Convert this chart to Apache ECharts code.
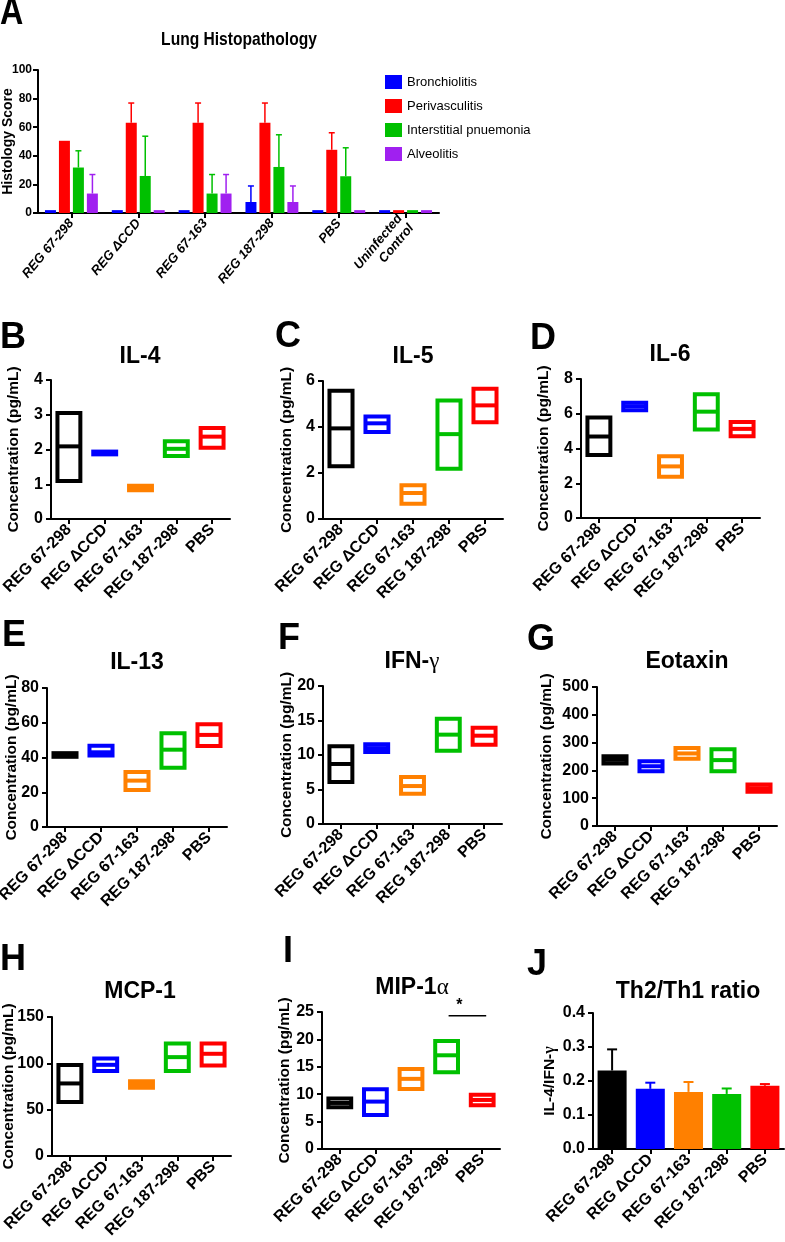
<!DOCTYPE html>
<html>
<head>
<meta charset="utf-8">
<script src="https://cdn.jsdelivr.net/npm/echarts@6/dist/echarts.min.js"></script>
<style>
  html, body { margin: 0; padding: 0; background: #fff; }
  #main { width: 785px; height: 1242px; }
</style>
</head>
<body>
<div id="main"></div>
<script>
// ---- panel A: lung histopathology (mean + upper SEM) ----
const histoGroups = ['REG 67-298', 'REG ΔCCD', 'REG 67-163', 'REG 187-298', 'PBS', 'Uninfected\nControl'];
const histoNames = ['Bronchiolitis', 'Perivasculitis', 'Interstitial pnuemonia', 'Alveolitis'];
const bronchiolitis = [2, 2, 2, 7.7, 2, 2];
const bronchiolitisErr = [0, 0, 0, 11.2, 0, 0];
const perivasculitis = [50.5, 63.1, 63.1, 63.1, 44.2, 2];
const perivasculitisErr = [0, 13.8, 13.8, 13.8, 11.9, 0];
const interstitial = [31.8, 25.9, 13.6, 32.2, 25.7, 2];
const interstitialErr = [11.7, 27.8, 13.3, 22.5, 19.9, 0];
const alveolitis = [13.6, 2, 13.6, 7.7, 2, 2];
const alveolitisErr = [13.3, 0, 13.3, 11.2, 0, 0];
const histoTicks = [0, 100, 20]; // min, max, interval

// ---- panels B-I: floating bars [min, mean, max] ----
const groups = ['REG 67-298', 'REG ΔCCD', 'REG 67-163', 'REG 187-298', 'PBS'];
const il4 = [[1.09, 2.09, 3.05], [1.86, 1.9, 1.94], [0.83, 0.89, 0.96], [1.81, 2.02, 2.24], [2.05, 2.37, 2.62]];
const il5 = [[2.29, 3.94, 5.58], [3.78, 4.16, 4.46], [0.66, 1.13, 1.47], [2.19, 3.69, 5.15], [4.21, 4.94, 5.66]];
const il6 = [[3.62, 4.69, 5.78], [6.2, 6.43, 6.64], [2.37, 2.97, 3.56], [5.09, 6.12, 7.12], [4.71, 5.13, 5.53]];
const il13 = [[40.4, 41.4, 42.5], [41.1, 43, 46.8], [21.3, 26.7, 31.7], [34.1, 44.5, 53.9], [46.6, 53, 59.1]];
const ifng = [[6.09, 8.7, 11.26], [10.43, 11.0, 11.55], [4.4, 5.5, 6.81], [10.63, 12.95, 15.27], [11.5, 12.8, 13.96]];
const eotaxin = [[225, 238, 251], [197, 215, 233], [242, 261, 281], [197, 237, 276], [123, 136, 149]];
const mcp1 = [[58.4, 78.3, 98.1], [91.6, 98.4, 105.3], [73.6, 77.2, 80.8], [91.6, 106.7, 121.5], [97.7, 110.3, 121.5]];
const mip1a = [[7.6, 8.4, 9.2], [6.2, 8.65, 10.9], [10.95, 12.8, 14.6], [14.0, 17.1, 19.7], [8.0, 8.95, 9.9]];
const mipSig = [3, 4, 24.3]; // REG 187-298 vs PBS, bar height

// ---- panel J: Th2/Th1 ratio ----
const ratio = [0.231, 0.177, 0.168, 0.162, 0.186];
const ratioErr = [0.062, 0.018, 0.029, 0.016, 0.005];

const groupColors = ['#000000', '#0000ff', '#ff8000', '#00c000', '#ff0000'];
const histoColors = ['#0000ff', '#ff0000', '#00c000', '#a020f0'];
const sans = "'Liberation Sans', Arial, sans-serif";

// layout of the small panels
const panels = [
  { key: 'B', title: 'IL-4', data: il4, max: 4, step: 1, grid: [51, 380, 179, 139], t: [140, 357], l: [0, 338], gap: 29 },
  { key: 'C', title: 'IL-5', data: il5, max: 6, step: 2, grid: [323, 381, 180, 138], t: [413, 357], l: [275, 337], gap: 28 },
  { key: 'D', title: 'IL-6', data: il6, max: 8, step: 2, grid: [581, 379, 179, 139], t: [670, 355], l: [530, 339], gap: 29 },
  { key: 'E', title: 'IL-13', data: il13, max: 80, step: 20, grid: [47, 688, 180, 139], t: [137, 663], l: [2, 636], gap: 27 },
  { key: 'F', title: 'IFN-{g|γ}', data: ifng, max: 20, step: 5, grid: [323, 686, 179, 138], t: [412, 662], l: [278, 639], gap: 28 },
  { key: 'G', title: 'Eotaxin', data: eotaxin, max: 500, step: 100, grid: [597, 687, 180, 139], t: [687, 662], l: [527, 640], gap: 42 },
  { key: 'H', title: 'MCP-1', data: mcp1, max: 150, step: 50, grid: [52, 1017, 179, 139], t: [140, 992], l: [0, 960], gap: 35 },
  { key: 'I', title: 'MIP-1{g|α}', data: mip1a, max: 25, step: 5, grid: [322, 1012, 178, 137], t: [412, 988], l: [283, 952], gap: 29 },
  { key: 'J', title: 'Th2/Th1 ratio', data: null, max: 0.4, step: 0.1, grid: [593, 1013, 191, 136], t: [688, 992], l: [527, 965], gap: 35 }
];

const greek = { g: { fontFamily: "'Liberation Serif', serif", fontWeight: 'normal', fontSize: 23, color: '#000' } };
const axisLine = { show: true, lineStyle: { color: '#000', width: 2 } };
const axisTick = { show: true, length: 5, lineStyle: { color: '#000', width: 2 } };

const grids = [{ left: 38, top: 70, width: 401, height: 143, outerBoundsMode: 'none' }];
const xAxes = [{
  type: 'category', gridIndex: 0, data: histoGroups,
  axisLine, axisTick: Object.assign({ alignWithLabel: true }, axisTick),
  axisLabel: { interval: 0, rotate: 50, margin: 8, fontFamily: sans, fontWeight: 'bold', fontStyle: 'italic', fontSize: 13, color: '#000', lineHeight: 15 }
}];
const yAxes = [{
  type: 'value', gridIndex: 0, min: histoTicks[0], max: histoTicks[1], interval: histoTicks[2],
  axisLine, axisTick, splitLine: { show: false },
  axisLabel: { margin: 6, fontFamily: sans, fontWeight: 'bold', fontSize: 12, color: '#000' },
  name: 'Histology Score', nameLocation: 'middle', nameGap: 23, nameMoveOverlap: false,
  nameTextStyle: { fontFamily: sans, fontWeight: 'bold', fontSize: 14, color: '#000' }
}];
const titles = [];

const series = [];
const histoVals = [bronchiolitis, perivasculitis, interstitial, alveolitis];
const histoErrs = [bronchiolitisErr, perivasculitisErr, interstitialErr, alveolitisErr];

function errItem(offset, colorOf, cap, lw) {
  return function (params, api) {
    const sem = api.value(2);
    if (!sem) return null;
    const p0 = api.coord([api.value(0), api.value(1)]);
    const p1 = api.coord([api.value(0), api.value(1) + sem]);
    const x = p0[0] + offset;
    const c = colorOf(params.dataIndex);
    return {
      type: 'group', children: [
        { type: 'line', shape: { x1: x, y1: p0[1], x2: x, y2: p1[1] }, style: { stroke: c, lineWidth: lw } },
        { type: 'line', shape: { x1: x - cap / 2, y1: p1[1], x2: x + cap / 2, y2: p1[1] }, style: { stroke: c, lineWidth: lw } }
      ]
    };
  };
}

histoNames.forEach(function (name, i) {
  series.push({
    type: 'bar', name: name, xAxisIndex: 0, yAxisIndex: 0, data: histoVals[i],
    barWidth: 11, barGap: '27%', itemStyle: { color: histoColors[i] }
  });
});
histoNames.forEach(function (name, i) {
  series.push({
    type: 'custom', xAxisIndex: 0, yAxisIndex: 0, z: 3,
    data: histoVals[i].map(function (v, k) { return [k, v, histoErrs[i][k]]; }),
    renderItem: errItem((i - 1.5) * 14, function () { return histoColors[i]; }, 6, 1.5)
  });
});

function boxItem(params, api) {
  const x = api.value(0);
  const lo = api.coord([x, api.value(1)]);
  const md = api.coord([x, api.value(2)]);
  const hi = api.coord([x, api.value(3)]);
  const w = api.size([1, 0])[0] * 0.64;
  const c = groupColors[params.dataIndex];
  return {
    type: 'group', children: [
      { type: 'rect', shape: { x: lo[0] - w / 2, y: hi[1], width: w, height: lo[1] - hi[1] }, style: { fill: '#fff', stroke: c, lineWidth: 4 } },
      { type: 'line', shape: { x1: lo[0] - w / 2, y1: md[1], x2: lo[0] + w / 2, y2: md[1] }, style: { stroke: c, lineWidth: 4 } }
    ]
  };
}

panels.forEach(function (p, idx) {
  const gi = idx + 1;
  grids.push({ left: p.grid[0], top: p.grid[1], width: p.grid[2], height: p.grid[3], outerBoundsMode: 'none' });
  xAxes.push({
    type: 'category', gridIndex: gi, data: groups,
    axisLine, axisTick: Object.assign({ alignWithLabel: true }, axisTick),
    axisLabel: { interval: 0, rotate: 45, margin: 8, fontFamily: sans, fontWeight: 'bold', fontSize: 16, color: '#000' }
  });
  yAxes.push({
    type: 'value', gridIndex: gi, min: 0, max: p.max, interval: p.step,
    axisLine, axisTick, splitLine: { show: false },
    axisLabel: {
      margin: 8, fontFamily: sans, fontWeight: 'bold', fontSize: 16, color: '#000',
      formatter: p.key === 'J' ? function (v) { return v.toFixed(1); } : null
    },
    name: p.key === 'J' ? 'IL-4/IFN-{g|γ}' : 'Concentration (pg/mL)',
    nameLocation: 'middle', nameGap: p.gap, nameMoveOverlap: false,
    nameTextStyle: { fontFamily: sans, fontWeight: 'bold', fontSize: 15.5, color: '#000', rich: { g: { fontFamily: "'Liberation Serif', serif", fontSize: 16, color: '#000' } } }
  });
  titles.push({
    text: p.key, left: p.l[0], top: p.l[1], textVerticalAlign: 'middle', padding: 0,
    textStyle: { fontFamily: sans, fontWeight: 'bold', fontSize: 36, color: '#000' }
  });
  titles.push({
    text: p.title, left: p.t[0], top: p.t[1], textAlign: 'center', textVerticalAlign: 'middle', padding: 0,
    textStyle: { fontFamily: sans, fontWeight: 'bold', fontSize: 23, color: '#000', rich: greek }
  });
  if (p.data) {
    series.push({
      type: 'custom', xAxisIndex: gi, yAxisIndex: gi,
      encode: { x: 0, y: [1, 2, 3] },
      data: p.data.map(function (d, k) { return [k, d[0], d[1], d[2]]; }),
      renderItem: boxItem
    });
  }
});

// panel J bars with SEM
series.push({
  type: 'bar', xAxisIndex: 9, yAxisIndex: 9, data: ratio, barWidth: '76%',
  itemStyle: { color: function (p) { return groupColors[p.dataIndex]; } }
});
series.push({
  type: 'custom', xAxisIndex: 9, yAxisIndex: 9, z: 3,
  data: ratio.map(function (v, k) { return [k, v, ratioErr[k]]; }),
  renderItem: errItem(0, function (i) { return groupColors[i]; }, 10, 2)
});

// significance bar in panel I
series.push({
  type: 'custom', xAxisIndex: 8, yAxisIndex: 8, z: 4,
  data: [mipSig],
  renderItem: function (params, api) {
    const a = api.coord([api.value(0), api.value(2)]);
    const b = api.coord([api.value(1), api.value(2)]);
    return {
      type: 'group', children: [
        { type: 'line', shape: { x1: a[0] + 2, y1: a[1], x2: b[0] + 4, y2: b[1] }, style: { stroke: '#000', lineWidth: 1.5 } },
        { type: 'text', x: (a[0] + b[0]) / 2 - 5, y: a[1] - 2, style: { text: '*', fill: '#000', font: 'bold 16px ' + sans, align: 'center', verticalAlign: 'bottom' } }
      ]
    };
  }
});

// panel A heading is horizontally squeezed in the source figure
const graphics = [
  { type: 'text', x: 0, y: 14, scaleX: 0.85, style: { text: 'A', fill: '#000', font: 'bold 38px ' + sans, align: 'left', verticalAlign: 'middle' } },
  { type: 'text', x: 239, y: 40, scaleX: 0.82, style: { text: 'Lung Histopathology', fill: '#000', font: 'bold 19px ' + sans, align: 'center', verticalAlign: 'middle' } }
];

const chart = echarts.init(document.getElementById('main'), null, { renderer: 'canvas' });
chart.setOption({
  animation: false,
  backgroundColor: '#fff',
  title: titles,
  graphic: graphics,
  legend: {
    data: histoNames, orient: 'vertical', left: 385, top: 75, padding: 0,
    itemWidth: 17, itemHeight: 14, itemGap: 10, icon: 'rect',
    textStyle: { fontFamily: sans, fontSize: 13, color: '#000' }
  },
  grid: grids,
  xAxis: xAxes,
  yAxis: yAxes,
  series: series
});
</script>
</body>
</html>
